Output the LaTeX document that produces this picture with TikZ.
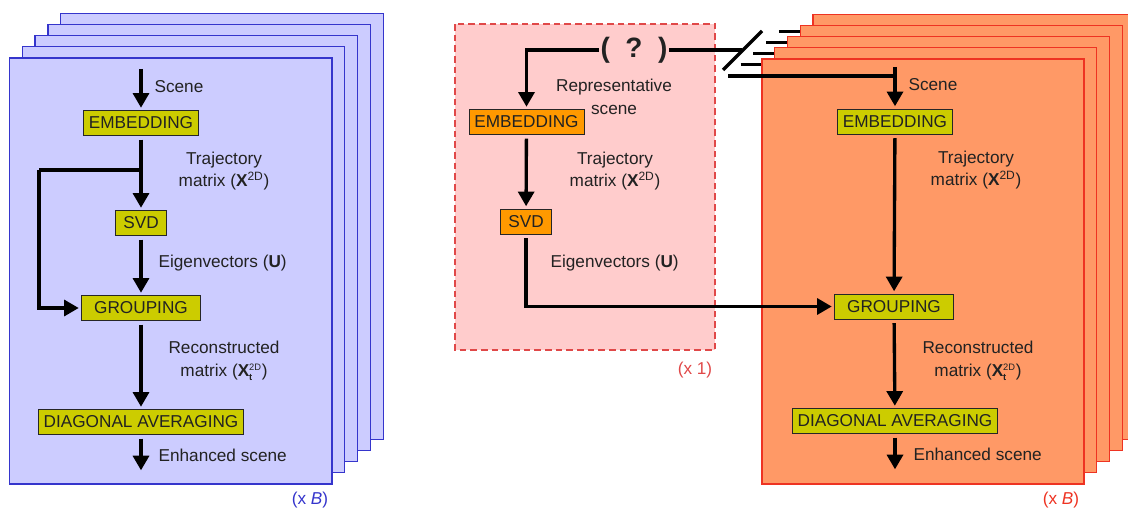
\documentclass[tikz,border=0pt]{standalone}
\usepackage{fontspec}
\setmainfont{Liberation Sans}
\usetikzlibrary{arrows.meta}
\definecolor{lavender}{HTML}{CCCCFF}
\definecolor{stackblue}{HTML}{3535CC}
\definecolor{pinkfill}{HTML}{FFCCCC}
\definecolor{dashred}{HTML}{E04848}
\definecolor{salmon}{HTML}{FF9966}
\definecolor{stackred}{HTML}{EE3322}
\definecolor{boxyellow}{HTML}{CCCC00}
\definecolor{boxorange}{HTML}{FF9900}
\definecolor{ink}{HTML}{222222}
\tikzstyle{stepbox}=[draw=black!85,fill=boxyellow,text=ink,minimum height=18.5pt,inner xsep=4pt,inner ysep=0pt]
\tikzstyle{stepboxo}=[stepbox,fill=boxorange]
\tikzstyle{flow}=[line width=2.5pt,-{Triangle[width=12pt,length=11pt]},shorten <=3pt,shorten >=2pt]
\tikzstyle{wire}=[line width=2.5pt]
\tikzstyle{txt}=[text=ink,align=center,inner sep=1pt]
\newcommand{\Xtwo}{\textbf{X}\textsuperscript{2D}}
\newcommand{\Xtwot}{\textbf{X}$^{\mbox{\scriptsize 2D}}_{\mbox{\scriptsize\bfseries t}}$}

\begin{document}
\begin{tikzpicture}[x=0.75pt,y=-0.75pt,font=\fontsize{12.9}{17}\selectfont]
    \useasboundingbox (0,0) rectangle (1128,510);
    % left stack (x B)
    \foreach \i in {4,...,0}
    \draw[stackblue,fill=lavender,line width=1pt] (9.5+12.8*\i,58-11.2*\i) rectangle (332+12.8*\i,484-11.2*\i);
    % representative box (x 1)
    \draw[dashred,fill=pinkfill,line width=1pt,dash pattern=on 5pt off 3pt] (455,24) rectangle (715,350);
    % broken lines going behind the right stack
    \foreach \i in {1,...,4}
    \draw[wire] (728+12.7*\i,76-11.2*\i) -- +(40,0);
    % right stack (x B)
    \foreach \i in {4,...,0}
    \draw[stackred,fill=salmon,line width=1pt] (762+12.75*\i,59-11.2*\i) rectangle (1084+12.75*\i,484-11.2*\i);

    % left pipeline
    \coordinate (in1) at (141,65);
    \coordinate (out1) at (141,473);
    \node[stepbox] (emb1) at (141,123) {EMBEDDING};
    \node[stepbox,minimum width=38pt] (svd1) at (141,223) {SVD};
    \node[stepbox,minimum width=89pt] (grp1) at (141,308) {GROUPING};
    \node[stepbox] (dia1) at (141,422) {DIAGONAL AVERAGING};
    \node[txt,anchor=west] (sc1) at (153,87) {Scene};
    \node[txt] (tr1) at (224,171) {Trajectory\\matrix (\Xtwo)};
    \node[txt,anchor=west] (ev1) at (157,263) {Eigenvectors (\textbf{U})};
    \node[txt] (rc1) at (224,361) {Reconstructed\\matrix (\Xtwot)};
    \node[txt,anchor=west] (en1) at (157,455) {Enhanced scene};
    \node[stackblue] (nb1) at (310,500) {(x \textit{B})};
    \foreach \from/\to in {in1/emb1,emb1/svd1,svd1/grp1,grp1/dia1,dia1/out1}
    \draw[flow] (\from) -- (\to);
    \coordinate (fb) at (141,170);
    \coordinate (fbc) at (39,170);
    \draw[wire] (fb) -- (fbc);
    \draw[flow,shorten <=0pt] (fbc) |- (grp1.west);

    % representative pipeline
    \node[inner sep=1pt,text=ink,font=\fontsize{21}{25}\selectfont\bfseries] (q) at (634,50) {(~~?~~)};
    \node[stepboxo,minimum width=86pt] (emb2) at (526.5,122) {EMBEDDING};
    \node[stepboxo,minimum width=38pt] (svd2) at (526,221.5) {SVD};
    \node[txt] (rs2) at (614,97) {Representative\\scene};
    \node[txt] (tr2) at (615,171) {Trajectory\\matrix (\Xtwo)};
    \node[txt,anchor=west] (ev2) at (549,263) {Eigenvectors (\textbf{U})};
    \node[dashred] (n2) at (695,370) {(x 1)};
    \draw[flow,shorten <=0pt] (q.west) -| (emb2.north);
    \draw[flow] (emb2) -- (svd2);

    % right pipeline
    \coordinate (in3) at (895,63);
    \coordinate (out3) at (895,472);
    \node[stepbox] (emb3) at (895,121.5) {EMBEDDING};
    \node[stepbox,minimum width=89pt] (grp3) at (894,306.5) {GROUPING};
    \node[stepbox] (dia3) at (895,421) {DIAGONAL AVERAGING};
    \node[txt,anchor=west] (sc3) at (907,85) {Scene};
    \node[txt] (tr3) at (976,170) {Trajectory\\matrix (\Xtwo)};
    \node[txt] (rc3) at (978,361) {Reconstructed\\matrix (\Xtwot)};
    \node[txt,anchor=west] (en3) at (912,454) {Enhanced scene};
    \node[stackred] (nb3) at (1061,500) {(x \textit{B})};
    \foreach \from/\to in {in3/emb3,emb3/grp3,grp3/dia3,dia3/out3}
    \draw[flow] (\from) -- (\to);

    % links between the two parts
    \coordinate (cut) at (742,50);
    \coordinate (sl1) at (723,70);
    \coordinate (sl2) at (762,31);
    \coordinate (br0) at (728,76);
    \coordinate (br1) at (895,76);
    \draw[wire] (q.east) -- (cut);
    \draw[wire] (sl1) -- (sl2);
    \draw[wire] (br0) -- (br1);
    \draw[flow] (svd2.south) |- (grp3.west);
\end{tikzpicture}
\end{document}
